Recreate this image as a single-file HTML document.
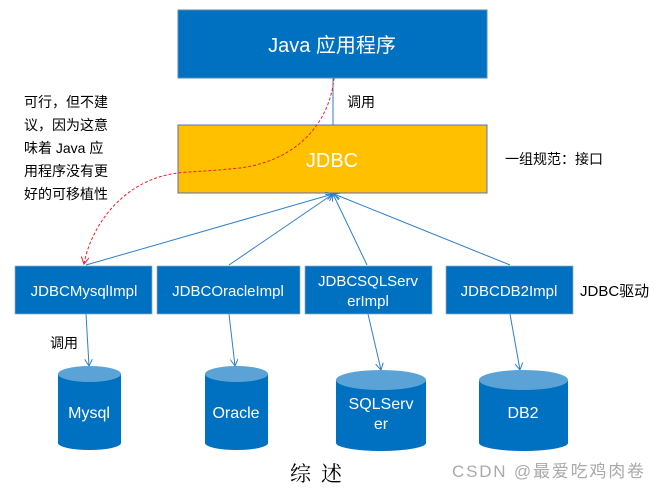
<!DOCTYPE html>
<html><head><meta charset="utf-8"><style>
body{margin:0;background:#fff;}
svg text{font-family:"Liberation Sans","Noto Sans CJK SC",sans-serif;}
</style></head><body>
<svg width="657" height="489" viewBox="0 0 657 489" xmlns="http://www.w3.org/2000/svg">
<defs>
<marker id="a" markerWidth="8" markerHeight="8" refX="7" refY="4" orient="auto" markerUnits="userSpaceOnUse"><path d="M0,0 L7,4 L0,8" fill="none" stroke="#2f7fc8" stroke-width="1"/></marker>
<marker id="r" markerWidth="8" markerHeight="8" refX="7" refY="4" orient="auto" markerUnits="userSpaceOnUse"><path d="M0,0 L7,4 L0,8" fill="none" stroke="#e8202a" stroke-width="1"/></marker>
</defs>
<rect x="178" y="10" width="309" height="68" fill="#0070c0" stroke="#5a8ab0"/>
<text x="332" y="52" font-size="20" fill="#fff" text-anchor="middle">Java 应用程序</text>
<line x1="333" y1="78" x2="333" y2="125" stroke="#2f7fc8"/>
<text x="347" y="107" font-size="14">调用</text>
<rect x="178" y="125" width="309" height="68" fill="#ffc000" stroke="#5b6cc8"/>
<text x="332" y="167" font-size="20" fill="#fff" text-anchor="middle">JDBC</text>
<text x="505" y="164" font-size="14">一组规范：接口</text>
<g font-size="14"><text x="24" y="107">可行，但不建</text><text x="24" y="130">议，因为这意</text><text x="24" y="153">味着 Java 应</text><text x="24" y="176">用程序没有更</text><text x="24" y="199">好的可移植性</text></g>
<g stroke="#2f7fc8" fill="none" marker-end="url(#a)">
<line x1="86" y1="265" x2="333" y2="194"/>
<line x1="229" y1="265" x2="333" y2="194"/>
<line x1="367" y1="265" x2="333" y2="194"/>
<line x1="510" y1="265" x2="334" y2="194"/>
<line x1="86" y1="314" x2="89" y2="366"/>
<line x1="229" y1="314" x2="235" y2="366"/>
<line x1="368" y1="314" x2="381" y2="370"/>
<line x1="510" y1="314" x2="520" y2="370"/>
</g>
<path d="M334,78 C330,120 300,160 240,168 C200,172 180,172 178,173 C120,180 90,230 84,264" fill="none" stroke="#e8202a" stroke-dasharray="3,2" marker-end="url(#r)"/>
<g fill="#0070c0" stroke="#9ab" stroke-width="0.7">
<rect x="15" y="266" width="137" height="48"/>
<rect x="157" y="266" width="143" height="48"/>
<rect x="305" y="266" width="127" height="48"/>
<rect x="446" y="266" width="127" height="48"/>
</g>
<g font-size="15" fill="#fff" text-anchor="middle">
<text x="84" y="296">JDBCMysqlImpl</text>
<text x="228" y="296">JDBCOracleImpl</text>
<text x="368" y="286">JDBCSQLServ</text>
<text x="368" y="306">erImpl</text>
<text x="509" y="296">JDBCDB2Impl</text>
</g>
<text x="580" y="296" font-size="15">JDBC驱动</text>
<text x="50" y="348" font-size="14">调用</text>
<g>
<path d="M58,374 L58,443 A31.5,7 0 0 0 121,443 L121,374 Z" fill="#0070c0"/><ellipse cx="89.5" cy="374" rx="31.5" ry="8" fill="#5ba3d6"/>
<path d="M205,374 L205,443 A31.5,7 0 0 0 268,443 L268,374 Z" fill="#0070c0"/><ellipse cx="236.5" cy="374" rx="31.5" ry="8" fill="#5ba3d6"/>
<path d="M336,380 L336,443 A45,8 0 0 0 426,443 L426,380 Z" fill="#0070c0"/><ellipse cx="381" cy="380" rx="45" ry="10" fill="#5ba3d6"/>
<path d="M479,380 L479,443 A44.5,8 0 0 0 568,443 L568,380 Z" fill="#0070c0"/><ellipse cx="523.5" cy="380" rx="44.5" ry="10" fill="#5ba3d6"/>
</g>
<g font-size="16" fill="#fff" text-anchor="middle">
<text x="89" y="418">Mysql</text>
<text x="236" y="418">Oracle</text>
<text x="381" y="409">SQLServ</text>
<text x="381" y="429">er</text>
<text x="523" y="418">DB2</text>
</g>
<text x="290" y="481" font-size="21" fill="#000" letter-spacing="10" style="font-family:'Noto Serif CJK SC',serif">综述</text>
<text x="452" y="477" font-size="17" fill="#aaa" textLength="192">CSDN @最爱吃鸡肉卷</text>
</svg>
</body></html>
